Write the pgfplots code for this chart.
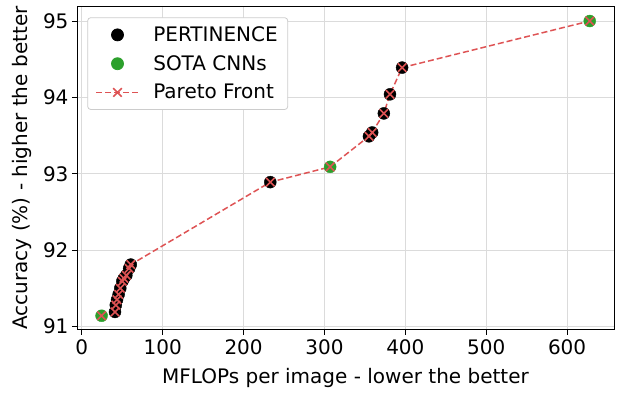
\documentclass[border=0pt]{standalone}
\usepackage{pgfplots}
\pgfplotsset{compat=1.18}
\usepackage{fontspec}
\setmainfont{DejaVu Sans}
\definecolor{pblack}{rgb}{0,0,0}
\definecolor{tabgreen}{HTML}{2CA02C}
\definecolor{pred}{rgb}{0.871,0.325,0.329}
\definecolor{gridgray}{rgb}{0.86,0.86,0.86}
\begin{document}
\begin{tikzpicture}
\begin{axis}[
  scale only axis,
  width=537pt, height=323pt,
  xmin=-6, xmax=658,
  ymin=90.96, ymax=95.19,
  xtick={0,100,200,300,400,500,600},
  ytick={91,92,93,94,95},
  /pgf/number format/assume math mode=true,
  tick label style={font=\fontsize{20}{24}\selectfont},
  xticklabel style={yshift=-2pt},
  label style={font=\fontsize{20}{24}\selectfont},
  xlabel={MFLOPs per image - lower the better},
  ylabel={Accuracy (\%) - higher the better},
  xlabel style={yshift=-6pt},
  ylabel style={yshift=4pt},
  tick align=outside,
  major tick length=5pt,
  xtick pos=bottom, ytick pos=left,
  tick style={black, line width=0.9pt},
  axis line style={black, line width=0.9pt},
  grid=major,
  major grid style={gridgray, line width=1pt},
  legend style={
    at={(0,1)}, anchor=north west, xshift=10.3pt, yshift=-10.8pt,
    font=\fontsize{20}{24}\selectfont,
    draw={rgb,255:red,204;green,204;blue,204}, line width=0.8pt,
    rounded corners=3pt, fill=white,
    row sep=8.5pt, column sep=12pt, inner xsep=8pt, inner ysep=7pt,
    cells={anchor=west},
  },
  legend image code/.code={\draw[mark repeat=2,mark phase=2] plot coordinates {(0cm,0cm) (0.74cm,0cm) (1.48cm,0cm)};},
]
\addplot[only marks, mark=*, mark size=6pt, draw=pblack, fill=pblack] coordinates {
(41.0,91.19) (42.0,91.28) (43.5,91.35) (45.5,91.42) (47.5,91.50) (50,91.59) (52,91.63) (55,91.67) (58.5,91.76) (60.5,91.81)
(233,92.89) (355,93.49) (359,93.54) (373.4,93.79) (381,94.04) (396,94.39)
};
\addlegendentry{PERTINENCE}
\addplot[only marks, mark=*, mark size=6pt, draw=tabgreen, fill=tabgreen] coordinates {
(24.4,91.14) (307,93.09) (628,95.0)
};
\addlegendentry{SOTA CNNs}
\addplot[pred, line width=1.5pt, dash pattern=on 6pt off 3pt, mark=x, mark size=6pt, mark options={solid, line width=1.6pt}] coordinates {
(24.4,91.14) (41.0,91.19) (42.0,91.28) (43.5,91.35) (45.5,91.42) (47.5,91.50) (50,91.59) (52,91.63) (55,91.67) (58.5,91.76) (60.5,91.81)
(233,92.89) (307,93.09) (355,93.49) (359,93.54) (373.4,93.79) (381,94.04) (396,94.39) (628,95.0)
};
\addlegendentry{Pareto Front}
\end{axis}
\pgfresetboundingbox
\path[use as bounding box] (-77pt,-62.5pt) rectangle (545pt,329.5pt);
\end{tikzpicture}
\end{document}
